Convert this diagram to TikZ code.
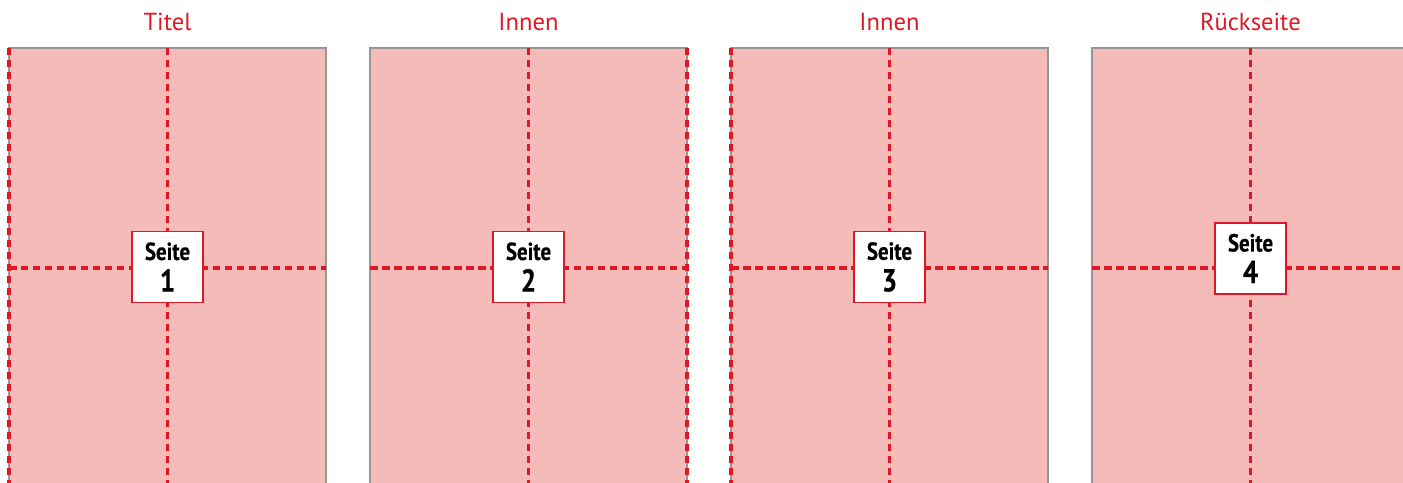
\documentclass[tikz,border=0pt]{standalone}
\usepackage{fontspec}
\setmainfont{PT Sans}
\newfontfamily\condfont[FakeStretch=0.85, BoldFeatures={FakeBold=0.5}]{PT Sans}
\usetikzlibrary{positioning}
\definecolor{foldred}{RGB}{222,24,36}
\definecolor{paperpink}{RGB}{245,187,184}
\definecolor{edgegray}{RGB}{150,150,150}

\begin{document}
\begin{tikzpicture}[node distance=0.44cm,
    panel/.style={rectangle, draw=edgegray, line width=0.4pt, fill=paperpink,
      minimum width=3.17cm, minimum height=4.40cm, inner sep=0pt, outer sep=0pt},
    fold/.style={draw=foldred, line width=0.9pt, dash pattern=on 0.075cm off 0.045cm},
    title/.style={text=foldred, font=\fontsize{7}{8}\selectfont, inner sep=0pt},
    pagebox/.style={rectangle, draw=foldred, line width=0.45pt, fill=white,
      minimum size=0.71cm, inner sep=0pt, align=center,
      font=\condfont\bfseries\fontsize{7}{9}\selectfont}]

    \useasboundingbox (0,0) rectangle (14.03,4.82);
    \clip (0,0) rectangle (14.03,4.82);

    % the four pages of the folded sheet
    \node[panel] (p1) at (1.675,2.14) {};
    \node[panel] (p2) [right=of p1] {};
    \node[panel] (p3) [right=of p2] {};
    \node[panel] (p4) [right=of p3] {};

    \node[title] (t1) [above=0.26cm of p1.north, anchor=center] {Titel};
    \node[title] (t2) [above=0.26cm of p2.north, anchor=center] {Innen};
    \node[title] (t3) [above=0.26cm of p3.north, anchor=center] {Innen};
    \node[title] (t4) [above=0.26cm of p4.north, anchor=center] {Rückseite};

    % fold lines
    \foreach \p in {p1,p2,p3,p4} {
      \draw[fold] (\p.north) -- (\p.south);
      \draw[fold] (\p.west) -- (\p.east);
    }
    \draw[fold] (p1.north west) -- (p1.south west);
    \draw[fold] (p2.north east) -- (p2.south east);
    \draw[fold] (p3.north west) -- (p3.south west);
    \draw[fold] (p4.north east) -- (p4.south east);

    \node[pagebox] (s1) at ([yshift=0.01cm]p1.center) {Seite\\{\fontsize{9}{9}\selectfont 1}};
    \node[pagebox] (s2) at ([yshift=0.01cm]p2.center) {Seite\\{\fontsize{9}{9}\selectfont 2}};
    \node[pagebox] (s3) at ([yshift=0.01cm]p3.center) {Seite\\{\fontsize{9}{9}\selectfont 3}};
    \node[pagebox] (s4) at ([yshift=0.095cm]p4.center) {Seite\\{\fontsize{9}{9}\selectfont 4}};
  \end{tikzpicture}
\end{document}
